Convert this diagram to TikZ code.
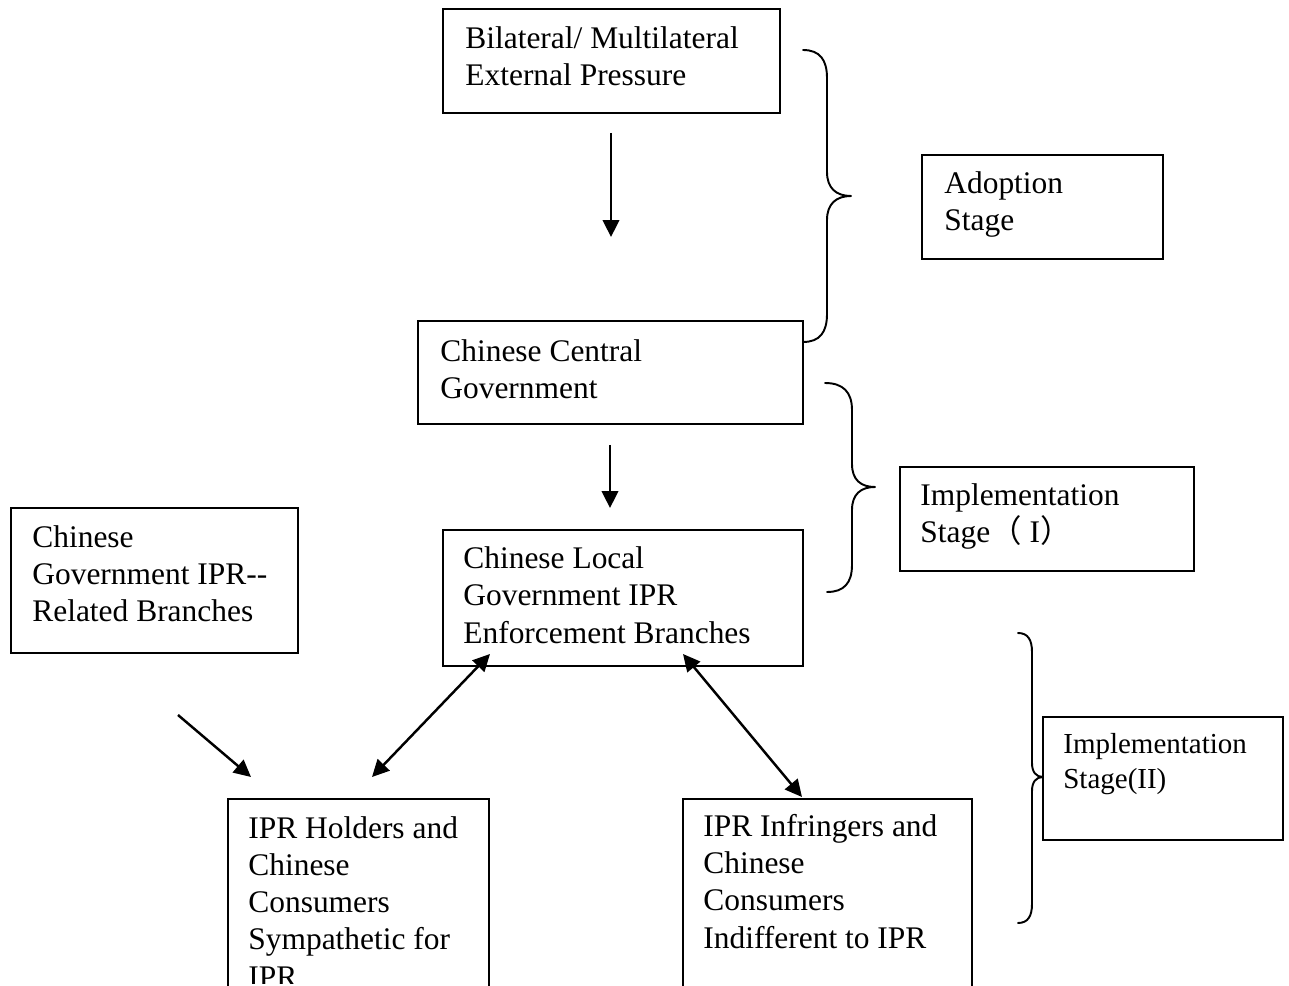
\documentclass[tikz,border=0pt]{standalone}
\usepackage{fontspec}
\setmainfont{Liberation Serif}
\newfontfamily\cjk{Noto Sans CJK SC}
\usetikzlibrary{arrows.meta,calc}

\begin{document}
\begin{tikzpicture}[x=0.02cm,y=-0.02cm,
  box/.style 2 args={draw,line width=1.1pt,rectangle,inner sep=0pt,outer sep=0pt,
    anchor=north west,minimum width=#1*0.02cm,minimum height=#2*0.02cm},
  txt/.style={anchor=base west,inner sep=0pt,align=left,
    font=\fontsize{17.9pt}{21.1pt}\selectfont},
  smalltxt/.style={txt,font=\fontsize{16.5pt}{19.9pt}\selectfont},
  tip/.tip={Triangle[length=0.34cm,width=0.33cm]},
  link/.style={line width=1.4pt,-tip},
  twoway/.style={line width=1.4pt,tip-tip},
  brace/.style={line width=1.1pt,line join=round,line cap=round}]

\useasboundingbox (0,0) rectangle (1289,986);
\clip (0,0) rectangle (1289,986);

% boxes
\node[box={337}{104}] (ext)   at (443,9)    {};
\node[box={241}{104}] (adopt) at (922,155)  {};
\node[box={385}{103}] (cent)  at (418,321)  {};
\node[box={294}{104}] (imp1)  at (900,467)  {};
\node[box={287}{145}] (rel)   at (11,508)   {};
\node[box={360}{136}] (loc)   at (443,530)  {};
\node[box={240}{123}] (imp2)  at (1043,717) {};
\node[box={261}{188}] (hold)  at (228,799)  {};
\node[box={289}{188}] (infr)  at (683,799)  {};

% box texts (anchored at the baseline of the last line)
\node[txt] (extT)   at (465,86)  {Bilateral/ Multilateral\\External Pressure};
\node[txt] (adoptT) at (944,231) {Adoption\\Stage};
\node[txt] (centT)  at (440,399) {Chinese Central\\Government};
\node[txt] (imp1T)  at (920,543) {Implementation\\Stage{\cjk （} I{\cjk ）}};
\node[txt] (relT)   at (32,622)  {Chinese\\Government IPR-{}-\\Related Branches};
\node[txt] (locT)   at (463,643) {Chinese Local\\Government IPR\\Enforcement Branches};
\node[smalltxt] (imp2T) at (1063,788) {Implementation\\Stage(II)};
\begin{scope}
  \clip (228,799) rectangle (489,983);
  \node[txt] (holdT) at (248,987) {IPR Holders and\\Chinese\\Consumers\\Sympathetic for\\IPR};
\end{scope}
\node[txt] (infrT)  at (703,948) {IPR Infringers and\\Chinese\\Consumers\\Indifferent to IPR};

% arrow end points
\coordinate (a1s) at (611,133); \coordinate (a1e) at (611,237);
\coordinate (a2s) at (610,445); \coordinate (a2e) at (610,508);
\coordinate (a3s) at (178,715); \coordinate (a3e) at (251,777);
\coordinate (a4s) at (372,777); \coordinate (a4e) at (490,654);
\coordinate (a5s) at (683,654); \coordinate (a5e) at (802,797);

\draw[link] (a1s) -- (a1e);
\draw[link] (a2s) -- (a2e);
\draw[link] (a3s) -- (a3e);
\draw[twoway] (a4s) -- (a4e);
\draw[twoway] (a5s) -- (a5e);

% stage braces
\draw[brace] (803,50) .. controls (820,50) and (827,60) .. (827,78) -- (827,172)
  .. controls (827,188) and (836,196) .. (851,196)
  .. controls (836,196) and (827,204) .. (827,220)
  -- (827,314) .. controls (827,332) and (820,342) .. (803,342);
\draw[brace] (825,383) .. controls (843,383) and (852,392) .. (852,410) -- (852,464)
  .. controls (852,480) and (861,487) .. (875,487)
  .. controls (861,487) and (852,494) .. (852,510)
  -- (852,565) .. controls (852,583) and (844,592) .. (827,592);
\draw[brace] (1018,633) .. controls (1028,633) and (1032,640) .. (1032,652) -- (1032,763)
  .. controls (1032,772) and (1036,777) .. (1043,777)
  .. controls (1036,777) and (1032,782) .. (1032,791)
  -- (1032,904) .. controls (1032,916) and (1028,923) .. (1018,923);
\end{tikzpicture}
\end{document}
